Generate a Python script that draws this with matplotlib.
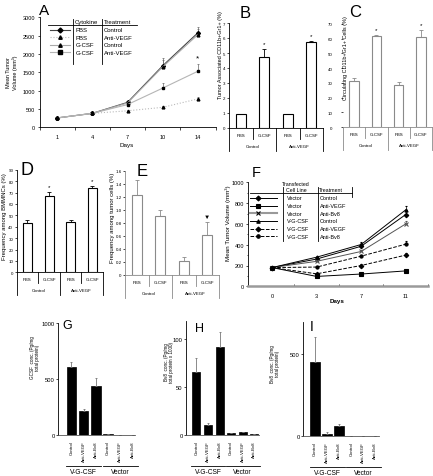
import numpy as np
import matplotlib
matplotlib.use("Agg")
import matplotlib.pyplot as plt
from matplotlib.lines import Line2D

plt.rcParams['font.family'] = ['Liberation Sans', 'DejaVu Sans']
plt.rcParams['font.size'] = 4
plt.rcParams['axes.linewidth'] = 0.6
plt.rcParams['xtick.major.width'] = 0.5
plt.rcParams['ytick.major.width'] = 0.5
plt.rcParams['xtick.minor.width'] = 0.5
plt.rcParams['ytick.minor.width'] = 0.5
plt.rcParams['xtick.major.size'] = 1.5
plt.rcParams['ytick.major.size'] = 1.5
plt.rcParams['xtick.major.pad'] = 1.5
plt.rcParams['ytick.major.pad'] = 1.5

W, H = 433, 477

# ── Data ────────────────────────────────────────────────
# A: tumor volume over days
days_a = ['1', '4', '7', '10', '14']
a_pbs_ctrl = [255, 380, 680, 1680, 2580]
a_pbs_ctrl_err = [15, 20, 40, 200, 150]
a_pbs_vegf = [255, 380, 450, 545, 775]
a_pbs_vegf_err = [15, 20, 30, 40, 50]
a_gcsf_ctrl = [255, 380, 665, 1650, 2530]
a_gcsf_ctrl_err = [15, 20, 40, 180, 140]
a_gcsf_vegf = [255, 380, 620, 1070, 1530]
a_gcsf_vegf_err = [15, 20, 40, 150, 200]

cats = ['PBS', 'G-CSF', 'PBS', 'G-CSF']
groups = ['Control', 'Anti-VEGF']

b_vals = [0.93, 4.72, 0.93, 5.75]
b_err = [0.03, 0.55, 0.03, 0.03]
c_vals = [31.5, 61.8, 28.5, 61.5]
c_err = [1.5, 0.5, 2.0, 4.5]
d_vals = [43.5, 67.0, 44.0, 74.0]
d_err = [2.0, 3.5, 2.0, 2.0]
e_vals = [1.22, 0.91, 0.21, 0.61]
e_err = [0.23, 0.08, 0.07, 0.2]

# F: tumor volume, transfected cell lines
days_f = ['0', '3', '7', '11']
f_vec_ctrl = [180, 262, 385, 690]
f_vec_vegf = [180, 95, 118, 148]
f_vec_bv8 = [180, 240, 335, 600]
f_vg_ctrl = [180, 280, 402, 735]
f_vg_vegf = [180, 120, 200, 300]
f_vg_bv8 = [180, 185, 290, 405]
f_vec_ctrl_err = [0, 15, 20, 35]
f_vec_vegf_err = [0, 8, 8, 10]
f_vec_bv8_err = [0, 12, 15, 30]
f_vg_ctrl_err = [0, 15, 20, 35]
f_vg_vegf_err = [0, 8, 12, 25]
f_vg_bv8_err = [0, 10, 15, 30]

ghi_cats = ['Control', 'Anti-VEGF', 'Anti-Bv8', 'Control', 'Anti-VEGF', 'Anti-Bv8']
ghi_groups = ['V-G-CSF', 'Vector']
g_vals = [605, 215, 440, 5, 1, 1]
g_err = [50, 15, 70, 0, 0, 0]
h_vals = [65.3, 10.4, 91.3, 2.0, 3.0, 1.0]
h_err = [15, 2, 16, 0, 0, 0]
i_vals = [453, 10, 61, 0, 0, 0]
i_err = [150, 10, 12, 0, 0, 0]

fig = plt.figure(figsize=(W / 100, H / 100), dpi=100)


def box(x0, y0, x1, y1):
    return [x0 / W, 1 - y1 / H, (x1 - x0) / W, (y1 - y0) / H]


def ftext(x, y, s, **kw):
    kw.setdefault('ha', 'left')
    kw.setdefault('va', 'center')
    fig.text(x / W, 1 - y / H, s, **kw)


def fline(xs, ys, **kw):
    fig.add_artist(Line2D([x / W for x in xs], [1 - y / H for y in ys],
                          transform=fig.transFigure, **kw))


def clean(ax):
    ax.spines['top'].set_visible(False)
    ax.spines['right'].set_visible(False)


def bar_panel(rect, vals, errs, ylim, yticks, edge, stars, star_mark='*'):
    ax = fig.add_axes(box(*rect))
    x = np.arange(len(vals)) + 0.5
    ax.bar(x, vals, width=0.42, color='white', edgecolor=edge, linewidth=0.8)
    ax.errorbar(x, vals, yerr=[np.zeros(len(errs)), errs], fmt='none',
                ecolor=edge, elinewidth=0.6, capsize=1.2, capthick=0.6)
    for i in stars:
        ax.text(x[i], vals[i] + errs[i] + (ylim[1] * 0.03), star_mark,
                ha='center', va='bottom', fontsize=4.5)
    ax.set_xlim(0, len(vals))
    ax.set_ylim(*ylim)
    ax.set_yticks(yticks)
    ax.tick_params(axis='y', labelsize=3.2, length=1.5, pad=1)
    ax.set_xticks([])
    clean(ax)
    ax.spines['bottom'].set_color(edge)
    ax.spines['left'].set_color(edge)
    # group table below the axis
    ax_h = rect[3] - rect[1]
    tr = ax.get_xaxis_transform()
    for i in range(len(vals) + 1):
        dy = 23 if i % 2 == 0 else 11
        ax.plot([i, i], [0, -dy / ax_h], transform=tr, color=edge, lw=0.6,
                clip_on=False)
    for i, c in enumerate(cats):
        ax.text(i + 0.5, -7 / ax_h, c, transform=tr, ha='center', va='center',
                fontsize=3.2)
    for j, g in enumerate(groups):
        ax.text(2 * j + 1, -18 / ax_h, g, transform=tr, ha='center',
                va='center', fontsize=3.2)
    return ax


# ── A ───────────────────────────────────────────────────
axA = fig.add_axes(box(39.5, 18.3, 215.6, 128.3))
xa = np.arange(len(days_a))
a_series = [
    (a_pbs_ctrl, a_pbs_ctrl_err, 'D', '-', '#444444'),
    (a_pbs_vegf, a_pbs_vegf_err, '^', ':', '#bbbbbb'),
    (a_gcsf_ctrl, a_gcsf_ctrl_err, '^', '-', '#aaaaaa'),
    (a_gcsf_vegf, a_gcsf_vegf_err, 's', '-', '#b5b5b5'),
]
for vals, errs, mk, ls, col in a_series:
    axA.errorbar(xa, vals, yerr=[np.zeros(len(errs)), errs], marker=mk, ls=ls,
                 color=col, ms=2, mfc='k', mec='k', lw=0.8, ecolor='#666666',
                 elinewidth=0.5, capsize=1, capthick=0.5)
axA.text(xa[-1], a_gcsf_vegf[-1] + a_gcsf_vegf_err[-1] + 60, '*',
         ha='center', va='bottom', fontsize=6)
axA.set_xlim(-0.5, 4.5)
axA.set_ylim(0, 3000)
axA.set_xticks(xa)
axA.set_xticklabels(days_a)
axA.set_xticks(np.arange(-0.5, 5, 1), minor=True)
axA.tick_params(axis='x', which='major', length=0, pad=5, labelsize=4)
axA.tick_params(axis='x', which='minor', length=2)
axA.set_yticks(np.arange(0, 3001, 500))
axA.tick_params(axis='y', labelsize=4)
clean(axA)
ftext(12, 73, 'Mean Tumor\nVolume (mm³)', rotation=90, ha='center',
      fontsize=4, linespacing=1.1)
ftext(127, 145, 'Days', ha='center', fontsize=4.5)
ftext(39, 11, 'A', fontsize=11)

# A legend table
fline([48, 137], [26, 26], color='k', lw=0.6)
fline([72.5, 72.5], [20, 65], color='k', lw=0.6)
fline([101.5, 101.5], [20, 65], color='k', lw=0.6)
ftext(75, 22.5, 'Cytokine', fontsize=4.3)
ftext(104, 22.5, 'Treatment', fontsize=4.3)
rows_a = [('PBS', 'Control'), ('PBS', 'Anti-VEGF'), ('G-CSF', 'Control'),
          ('G-CSF', 'Anti-VEGF')]
for k, ((cyt, trt), (_, _, mk, ls, col)) in enumerate(zip(rows_a, a_series)):
    yy = 31 + k * 7.4
    fline([50, 70], [yy, yy], color=col, ls=ls, lw=0.8)
    fline([60], [yy], marker=mk, ms=2.5, color='k', ls='none')
    ftext(76, yy, cyt, fontsize=4.3)
    ftext(104, yy, trt, fontsize=4.3)

# ── B, C, D, E ──────────────────────────────────────────
axB = bar_panel((229, 24, 323, 129), b_vals, b_err, (0, 7), range(0, 8),
                'black', [1, 3])
ftext(220, 55, 'Tumor Associated CD11b+Gr1+ (%)', rotation=90, ha='center',
      fontsize=4)
ftext(240, 13, 'B', fontsize=12)

axC = bar_panel((343, 25, 432, 128), c_vals, c_err, (0, 70),
                range(0, 71, 10), '#8a8a8a', [1, 3])
axC.spines['left'].set_visible(False)
axC.tick_params(axis='y', pad=6)
ftext(345.5, 58, 'Circulating CD11b+Gr1+ Cells (%)', rotation=90,
      ha='center', fontsize=4)
ftext(349, 12.5, 'C', fontsize=12)

axD = bar_panel((16.7, 170.7, 103, 273.3), d_vals, d_err, (0, 90),
                range(0, 91, 10), 'black', [1, 3])
ftext(5, 217, 'Frequency among BMMNCs (%)', rotation=90, ha='center',
      fontsize=4.3)
ftext(21, 171, 'D', fontsize=13)

axE = bar_panel((125, 171.7, 219, 275.7), e_vals, e_err, (0, 1.6),
                np.arange(0, 1.61, 0.2), '#8a8a8a', [3], star_mark='▼')
axE.set_yticklabels(['0', '0.2', '0.4', '0.6', '0.8', '1.0', '1.2', '1.4',
                     '1.6'])
ftext(112, 218, 'Frequency among tumor cells (%)', rotation=90, ha='center',
      fontsize=4.3)
ftext(137, 172, 'E', fontsize=12)

# ── F ───────────────────────────────────────────────────
axF = fig.add_axes(box(248, 183.3, 428, 287.3))
xf = np.arange(len(days_f))
f_series = [
    (f_vec_ctrl, f_vec_ctrl_err, 'D', '-', 'black', 'Vector', 'Control'),
    (f_vec_vegf, f_vec_vegf_err, 's', '-', 'black', 'Vector', 'Anti-VEGF'),
    (f_vec_bv8, f_vec_bv8_err, 'x', '-', '#555555', 'Vector', 'Anti-Bv8'),
    (f_vg_ctrl, f_vg_ctrl_err, '^', '-', 'black', 'V-G-CSF', 'Control'),
    (f_vg_vegf, f_vg_vegf_err, 'D', '--', 'black', 'V-G-CSF', 'Anti-VEGF'),
    (f_vg_bv8, f_vg_bv8_err, 'o', '--', 'black', 'V-G-CSF', 'Anti-Bv8'),
]
for vals, errs, mk, ls, col, _, _ in f_series:
    axF.errorbar(xf, vals, yerr=[np.zeros(len(errs)), errs], marker=mk, ls=ls,
                 color=col, ms=2.3, mew=0.8, lw=0.7, elinewidth=0.5,
                 capsize=1, capthick=0.5)
axF.set_xlim(-0.54, 3.5)
axF.set_ylim(0, 1000)
axF.set_xticks(xf)
axF.set_xticklabels(days_f)
axF.set_xticks(np.arange(0.5, 3.6, 1), minor=True)
axF.tick_params(axis='x', which='major', length=0, pad=5, labelsize=4)
axF.tick_params(axis='x', which='minor', length=1.5, direction='in')
axF.set_yticks(range(0, 1001, 200))
axF.set_yticks(range(0, 1001, 100), minor=True)
axF.tick_params(axis='y', which='minor', length=1)
axF.tick_params(axis='y', labelsize=4)
clean(axF)
axF.spines['bottom'].set_color('#9a9a9a')
axF.spines['bottom'].set_linewidth(1.8)
ftext(228, 223, 'Mean Tumor Volume (mm³)', rotation=90, ha='center',
      fontsize=4.5)
ftext(337, 302, 'Days', ha='center', fontsize=4.5, fontweight='bold')
ftext(252, 173, 'F', fontsize=10.5)

# F legend table
fline([250, 352], [194.3, 194.3], color='k', lw=0.6)
fline([283, 283], [188, 242], color='k', lw=0.6)
fline([318, 318], [188, 242], color='k', lw=0.6)
fline([352, 352], [188, 198], color='k', lw=0.6)
ftext(296, 184.5, 'Transfected', ha='center', fontsize=3.8)
ftext(296, 191, 'Cell Line', ha='center', fontsize=3.8)
ftext(331, 191, 'Treatment', ha='center', fontsize=3.8)
for k, (_, _, mk, ls, col, cell, trt) in enumerate(f_series):
    yy = 199 + k * 7.65
    lw = 1.5 if mk == 'x' else 0.7
    lc = '#999999' if mk == 'x' else col
    fline([250, 277], [yy, yy], color=lc, ls=ls, lw=lw)
    fline([258], [yy], marker=mk, ms=2.5, mew=0.8, color='k', ls='none')
    ftext(287, yy, cell, fontsize=4)
    ftext(320, yy, trt, fontsize=4)


# ── G, H, I ─────────────────────────────────────────────
def conc_panel(rect, vals, errs, xlim, ylim, yticks, bw):
    ax = fig.add_axes(box(*rect))
    x = np.arange(len(vals))
    ax.bar(x, vals, width=bw, color='black', edgecolor='black', linewidth=0.5)
    ax.errorbar(x, vals, yerr=[np.zeros(len(errs)), errs], fmt='none',
                ecolor='#777777', elinewidth=0.6, capsize=1, capthick=0.6)
    ax.set_xlim(*xlim)
    ax.set_ylim(*ylim)
    ax.set_yticks(yticks)
    ax.tick_params(axis='y', labelsize=4.2, length=1.5, pad=1)
    ax.set_xticks(x)
    ax.set_xticklabels(ghi_cats, rotation=90, fontsize=3.2, va='top')
    ax.tick_params(axis='x', length=0, pad=4)
    clean(ax)
    ax.spines['bottom'].set_color('#555555')
    tr = ax.get_xaxis_transform()
    ax_h = rect[3] - rect[1]
    for j, g in enumerate(ghi_groups):
        ax.plot([3 * j - 0.45, 3 * j + 2.45], [-31 / ax_h, -31 / ax_h],
                transform=tr, color='k', lw=0.6, clip_on=False)
        ax.text(3 * j + 1, -37 / ax_h, g, transform=tr, ha='center',
                va='center', fontsize=4.8)
    return ax


axG = conc_panel((58, 324.3, 135, 435.7), g_vals, g_err, (-1.1, 5.2),
                 (0, 1000), [0, 500, 1000], 0.77)
ftext(35, 358, 'GCSF  conc. (Pg/mg\ntotal protein)', rotation=90,
      ha='center', fontsize=3.3, linespacing=1.1)
ftext(62, 326, 'G', fontsize=9)

axH = conc_panel((186, 321.7, 259, 436), h_vals, h_err, (-0.9, 5.4),
                 (0, 119), [0, 50, 100], 0.7)
ftext(169, 362, 'Bv8  conc. (Pg/mg\ntotal protein x 1000)', rotation=90,
      ha='center', fontsize=3.3, linespacing=1.1)
ftext(195, 329, 'H', fontsize=9)

axI = conc_panel((303, 323.3, 379, 436.7), i_vals, i_err, (-1.0, 5.3),
                 (0, 694), [0, 500], 0.8)
ftext(275, 364, 'Bv8  conc. (Pg/mg\ntotal protein)', rotation=90,
      ha='center', fontsize=3.3, linespacing=1.1)
ftext(310, 327, 'I', fontsize=10)

fig.savefig('out.png', dpi=100)
